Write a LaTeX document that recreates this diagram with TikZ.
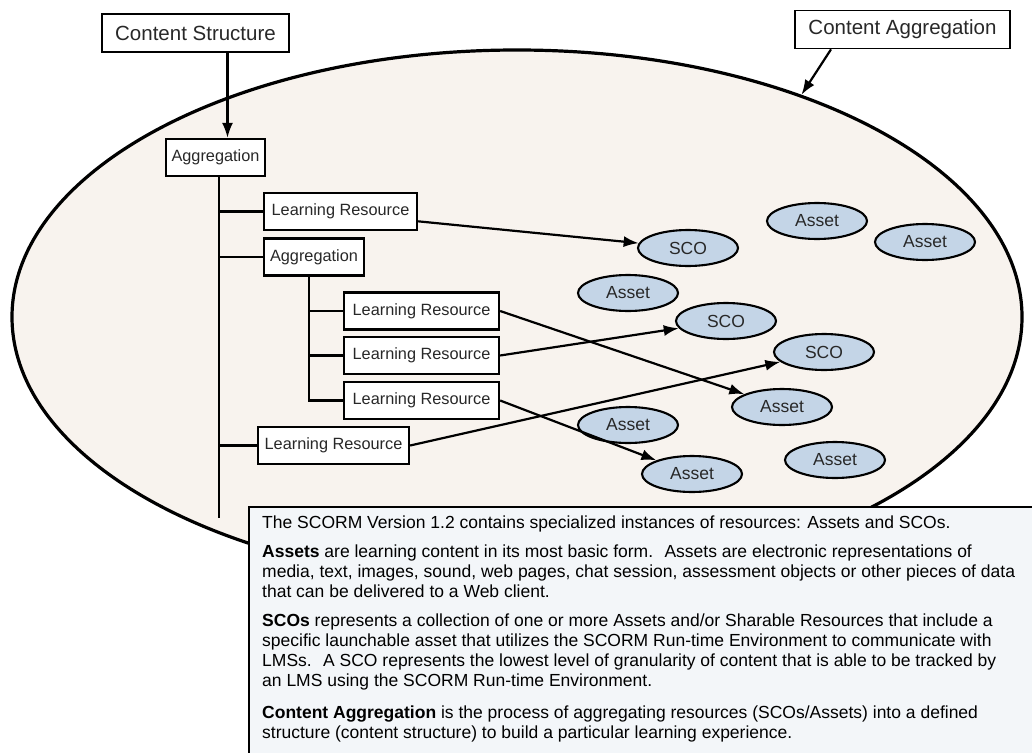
\documentclass[tikz,border=0pt]{standalone}
\usepackage{fontspec}
\setmainfont{Liberation Sans}
\usetikzlibrary{shapes.geometric,arrows.meta,calc}

\definecolor{poolfill}{RGB}{248,243,238}
\definecolor{itemfill}{RGB}{196,213,231}
\definecolor{notefill}{RGB}{243,246,249}
\definecolor{inkgray}{RGB}{40,40,40}

\begin{document}
\begin{tikzpicture}[x=1pt,y=-1pt,
  label box/.style={draw, fill=white, line width=1.6pt, inner sep=0pt,
    minimum height=38pt, font=\fontsize{20.5}{24}\selectfont, text=inkgray},
  item box/.style={draw, fill=white, line width=2.3pt, inner sep=0pt,
    minimum height=37pt, font=\fontsize{16.3}{19}\selectfont, text=inkgray},
  res/.style={draw, ellipse, fill=itemfill, line width=2.1pt, inner sep=0pt,
    minimum width=100pt, minimum height=36pt,
    font=\fontsize{17.5}{20}\selectfont, text=inkgray},
  link/.style={line width=2.2pt, -{Latex[length=15pt,width=11pt]}},
  tree/.style={line width=2.4pt}
]
\useasboundingbox (0,0) rectangle (1032,752);

% the content aggregation pool
\node[draw, ellipse, fill=poolfill, line width=3.2pt, inner sep=0pt,
      minimum width=1010pt, minimum height=534pt] (pool) at (517,317) {};

% labels on top
\node[label box, minimum width=187pt] (CS) at (195.5,33) {Content Structure};
\node[label box, minimum width=215pt] (CA) at (902.5,29.5) {Content Aggregation};

% content structure tree
\node[item box, minimum width=99pt]  (Agg)  at (215.5,157.5) {Aggregation};
\node[item box, minimum width=153pt] (LR1)  at (340.5,211.5) {Learning Resource};
\node[item box, minimum width=100pt] (Agg2) at (314,257)     {Aggregation};
\node[item box, minimum width=155pt] (LR2)  at (421.5,311)   {Learning Resource};
\node[item box, minimum width=155pt] (LR3)  at (421.5,355.5) {Learning Resource};
\node[item box, minimum width=155pt] (LR4)  at (421.5,400.5) {Learning Resource};
\node[item box, minimum width=151pt] (LR5)  at (333.5,445.5) {Learning Resource};

\coordinate (trunk) at (219,518);
\draw[tree] (Agg.south -| trunk) -- (trunk);
\foreach \n in {LR1,Agg2,LR5} \draw[tree] (\n.west -| trunk) -- (\n.west);
\coordinate (subtrunk) at (309,0);
\draw[tree] (Agg2.south -| subtrunk) -- (LR4.west -| subtrunk) -- (LR4.west);
\foreach \n in {LR2,LR3} \draw[tree] (\n.west -| subtrunk) -- (\n.west);

% resources
\node[res] (sco1) at (688,248) {SCO};
\node[res] (a1)   at (817,221) {Asset};
\node[res] (a2)   at (925,242) {Asset};
\node[res] (a3)   at (628,293) {Asset};
\node[res] (sco2) at (726,321) {SCO};
\node[res] (sco3) at (824,352) {SCO};
\node[res] (a4)   at (782,407) {Asset};
\node[res] (a5)   at (628,425) {Asset};
\node[res] (a6)   at (835,460) {Asset};
\node[res] (a7)   at (692,474) {Asset};

% connectors
\coordinate (csfoot) at ($(CS.south)+(32,0)$);
\draw[link] (csfoot) -- (csfoot |- Agg.north);
\draw[link] ($(CA.south west)!0.17!(CA.south east)$) -- (pool.38);
\draw[link] ($(LR1.east)!0.5!(LR1.south east)$) -- (sco1);
\draw[link] (LR2.east) -- (a4);
\draw[link] (LR3.east) -- (sco2);
\draw[link] (LR4.east) -- (a7);
\draw[link] (LR5.east) -- (sco3);

% explanatory note
\node[draw, fill=notefill, line width=1.8pt, anchor=north west, inner sep=0pt,
      minimum width=800pt, minimum height=260pt] (note) at (248,506) {};
\node[anchor=north west, inner sep=0pt, align=left,
      font=\fontsize{17.5}{20}\selectfont] (notetext) at ($(note.north west)+(14,10)$)
{The SCORM Version 1.2 contains specialized instances of resources: Assets and SCOs.\\[9pt]
\textbf{Assets} are learning content in its most basic form.~ Assets are electronic representations of\\
media, text, images, sound, web pages, chat session, assessment objects or other pieces of data\\
that can be delivered to a Web client.\\[9pt]
\textbf{SCOs} represents a collection of one or more Assets and/or Sharable Resources that include a\\
specific launchable asset that utilizes the SCORM Run-time Environment to communicate with\\
LMSs.~ A SCO represents the lowest level of granularity of content that is able to be tracked by\\
an LMS using the SCORM Run-time Environment.\\[12pt]
\textbf{Content Aggregation} is the process of aggregating resources (SCOs/Assets) into a defined\\
structure (content structure) to build a particular learning experience.};
\end{tikzpicture}
\end{document}
